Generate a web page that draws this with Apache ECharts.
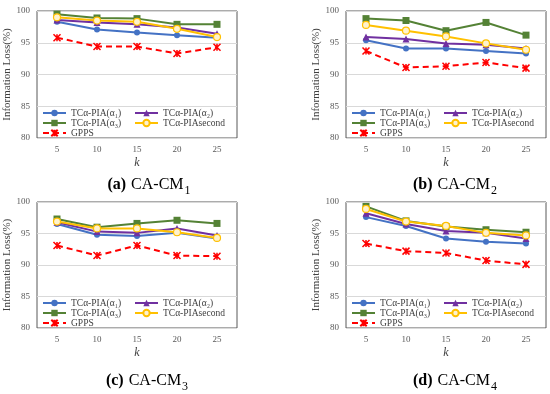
<!DOCTYPE html>
<html><head><meta charset="utf-8">
<script src="https://cdn.jsdelivr.net/npm/echarts@6/dist/echarts.min.js"></script>
<style>html,body{margin:0;padding:0;background:#fff}#c{width:550px;height:394px}</style>
</head><body><div id="c"></div>
<script>
const categories = ['5','10','15','20','25'];
const seriesNames = ['TCα-PIA(α₁)','TCα-PIA(α₂)','TCα-PIA(α₃)','TCα-PIAsecond','GPPS'];
const yTicks = [80,85,90,95,100];

// CA-CM1
const cm1_a1 = [98.3, 97.1, 96.6, 96.2, 95.8];
const cm1_a2 = [98.6, 98.2, 97.9, 97.4, 96.4];
const cm1_a3 = [99.5, 98.9, 98.8, 97.9, 97.9];
const cm1_sec = [99.0, 98.5, 98.3, 97.2, 95.9];
const cm1_gpps = [95.8, 94.4, 94.4, 93.3, 94.3];
// CA-CM2
const cm2_a1 = [95.4, 94.1, 94.1, 93.7, 93.3];
const cm2_a2 = [95.9, 95.6, 94.9, 94.7, 94.1];
const cm2_a3 = [98.8, 98.5, 96.9, 98.2, 96.2];
const cm2_sec = [97.8, 96.9, 96.0, 94.9, 93.9];
const cm2_gpps = [93.7, 91.1, 91.3, 91.9, 91.0];
// CA-CM3
const cm3_a1 = [96.5, 94.8, 94.6, 95.1, 94.2];
const cm3_a2 = [96.8, 95.3, 95.1, 95.8, 94.7];
const cm3_a3 = [97.3, 96.0, 96.6, 97.1, 96.6];
const cm3_sec = [96.9, 95.8, 95.8, 95.2, 94.3];
const cm3_gpps = [93.1, 91.5, 93.1, 91.5, 91.4];
// CA-CM4
const cm4_a1 = [97.6, 96.2, 94.2, 93.7, 93.4];
const cm4_a2 = [98.2, 96.5, 95.4, 95.1, 94.2];
const cm4_a3 = [99.3, 97.0, 96.1, 95.6, 95.2];
const cm4_sec = [98.9, 96.9, 96.2, 95.1, 94.7];
const cm4_gpps = [93.4, 92.2, 91.9, 90.7, 90.1];

const panels = [
  {label:'(a)', sub:'1', data:[cm1_a1,cm1_a2,cm1_a3,cm1_sec,cm1_gpps]},
  {label:'(b)', sub:'2', data:[cm2_a1,cm2_a2,cm2_a3,cm2_sec,cm2_gpps]},
  {label:'(c)', sub:'3', data:[cm3_a1,cm3_a2,cm3_a3,cm3_sec,cm3_gpps]},
  {label:'(d)', sub:'4', data:[cm4_a1,cm4_a2,cm4_a3,cm4_sec,cm4_gpps]}
];

const FONT = '"Liberation Serif","DejaVu Serif",serif';
const layout = [
  {left:37, top:11, h:127, cx:144, cy:172},
  {left:346, top:11, h:127, cx:450, cy:172},
  {left:37, top:202, h:126, cx:142, cy:368},
  {left:346, top:202, h:126, cx:450, cy:368}
];
const styles = [
  {color:'#4472C4', symbol:'circle', size:6, dash:'solid'},
  {color:'#7030A0', symbol:'triangle', size:7, dash:'solid'},
  {color:'#548235', symbol:'rect', size:7, dash:'solid'},
  {color:'#FFC000', symbol:'circle', size:7, dash:'solid', fill:'#FFF2CC'},
  {color:'#FF0000', symbol:'path://M0,0L10,10M10,0L0,10M5,0L5,10', size:7, dash:[6,4]}
];

const grid=[], xAxis=[], yAxis=[], series=[], legend=[], title=[];
panels.forEach((p,i)=>{
  const L = layout[i];
  grid.push({left:L.left, top:L.top, width:200, height:L.h, show:true, borderColor:'#595959', borderWidth:1});
  xAxis.push({type:'category', gridIndex:i, data:categories, boundaryGap:true,
    axisLine:{show:false}, axisTick:{show:false},
    axisLabel:{fontFamily:FONT, fontSize:9, color:'#595959', margin:7},
    name:'k', nameLocation:'middle', nameGap:19,
    nameTextStyle:{fontFamily:FONT, fontSize:12, fontStyle:'italic', color:'#404040'}});
  yAxis.push({type:'value', gridIndex:i, min:80, max:100, interval:5,
    axisLine:{show:false}, axisTick:{show:false},
    axisLabel:{fontFamily:FONT, fontSize:9, color:'#595959', margin:7},
    splitLine:{lineStyle:{color:'#D9D9D9', width:1}},
    name:'Information Loss(%)', nameLocation:'middle', nameGap:16,
    nameTextStyle:{fontFamily:FONT, fontSize:11, color:'#404040'}});
  p.data.forEach((vals,j)=>{
    const s = styles[j];
    series.push({type:'line', name:seriesNames[j], xAxisIndex:i, yAxisIndex:i, data:vals,
      symbol:s.symbol, symbolSize:s.size, showAllSymbol:true,
      lineStyle:{color:s.color, width:2, type:s.dash},
      itemStyle: j===4 ? {color:s.color, borderColor:s.color, borderWidth:1.5}
               : (s.fill ? {color:s.fill, borderColor:s.color, borderWidth:1.2} : {color:s.color}),
      z: 2+j, animation:false});
  });
  legend.push({left:L.left+5, top:L.top+L.h-30, width:190, orient:'horizontal',
    itemWidth:23, itemHeight:8, itemGap:0, padding:0,
    data:seriesNames,
    textStyle:{fontFamily:FONT, fontSize:9.5, color:'#404040', width:63, lineHeight:8}});
  title.push({text:'{b|'+p.label+'} {r|CA-CM}{s|'+p.sub+'}', left:L.cx, top:L.cy, textAlign:'center',
    textStyle:{fontWeight:'normal', rich:{
      b:{fontFamily:FONT, fontSize:16, fontWeight:'bold', color:'#000', lineHeight:20, verticalAlign:'top'},
      r:{fontFamily:FONT, fontSize:16, fontWeight:'normal', color:'#000', lineHeight:20, verticalAlign:'top'},
      s:{fontFamily:FONT, fontSize:12, fontWeight:'normal', color:'#000', lineHeight:15, verticalAlign:'bottom', padding:[0,0,0,1]}
    }}});
});

const chart = echarts.init(document.getElementById('c'), null, {renderer:'canvas'});
chart.setOption({animation:false, backgroundColor:'#fff', grid, xAxis, yAxis, series, legend, title});
</script></body></html>
